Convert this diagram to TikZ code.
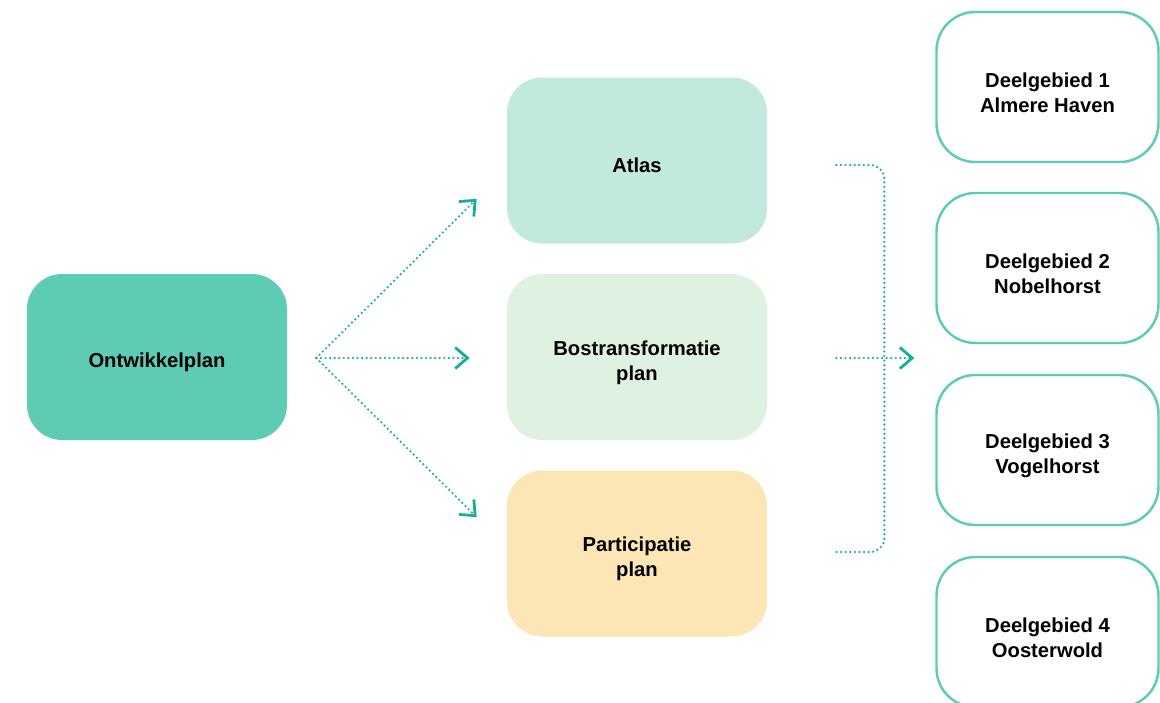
\documentclass[tikz,border=0pt]{standalone}
\usepackage{fontspec}
\setmainfont{Liberation Sans}
\usepackage{xcolor}
\usetikzlibrary{arrows.meta}
\definecolor{planGreen}{HTML}{5ECCB4}
\definecolor{atlasGreen}{HTML}{C2E9DD}
\definecolor{bosGreen}{HTML}{DFF2E1}
\definecolor{partYellow}{HTML}{FCE6B5}
\definecolor{linkTeal}{HTML}{17ACA0}
\newcommand{\firstline}{\rule{0pt}{14.5pt}}
\tikzset{
  label text/.style={align=center, font=\bfseries\fontsize{11.5}{14.2}\selectfont,
                     execute at begin node={\rule{0pt}{14pt}}},
  block/.style={label text, rounded corners=20pt, minimum width=260*0.02cm,
                minimum height=166*0.02cm, fill=#1},
  region/.style={label text, draw=planGreen, line width=1.4pt, fill=white,
                 rounded corners=22pt, minimum width=222*0.02cm,
                 minimum height=150*0.02cm},
  link/.style={draw=linkTeal, line width=1.4pt, line cap=round,
               dash pattern=on 0pt off 2.6pt}
}
\begin{document}
\begin{tikzpicture}[x=0.02cm, y=-0.02cm,
  tip/.style={-{Straight Barb[length=7pt, width=12pt, line width=1.6pt]}}
]
\useasboundingbox (0,0) rectangle (1160,703);
\clip (0,0) rectangle (1160,703);

% the blocks
\node[block=planGreen]  (plan)  at (157,357)   {Ontwikkelplan};
\node[block=atlasGreen] (atlas) at (637,160.5) {Atlas};
\node[block=bosGreen]   (bos)   at (637,357)   {\firstline Bostransformatie\\plan};
\node[block=partYellow] (part)  at (637,553.5) {\firstline Participatie\\plan};

% the regions
\node[region] (d1) at (1047.5,87)  {\firstline Deelgebied 1\\Almere Haven};
\node[region] (d2) at (1047.5,268) {\firstline Deelgebied 2\\Nobelhorst};
\node[region] (d3) at (1047.5,450) {\firstline Deelgebied 3\\Vogelhorst};
\node[region] (d4) at (1047.5,632) {\firstline Deelgebied 4\\Oosterwold};

% the split
\coordinate (split) at ([shift={(29,1)}]plan.east);
\coordinate (toAtlas) at ([shift={(-30,-45)}]atlas.south west);
\coordinate (toBos)   at ([shift={(-37,1)}]bos.west);
\coordinate (toPart)  at ([shift={(-30,47)}]part.north west);
\draw[link, tip] (split) -- (toAtlas);
\draw[link, tip] (split) -- (toBos);
\draw[link, tip] (split) -- (toPart);

% the bracket
\coordinate (fromAtlas) at ([shift={(69,4.5)}]atlas.east);
\coordinate (fromBos)   at ([shift={(69,1)}]bos.east);
\coordinate (fromPart)  at ([shift={(69,-1.5)}]part.east);
\coordinate (bend)      at ([shift={(48,0)}]fromPart);
\coordinate (toRegions) at ([shift={(78,0)}]fromBos);
\draw[link, rounded corners=8pt] (fromAtlas) -| (bend) -- (fromPart);
\draw[link, tip] (fromBos) -- (toRegions);
\end{tikzpicture}
\end{document}
